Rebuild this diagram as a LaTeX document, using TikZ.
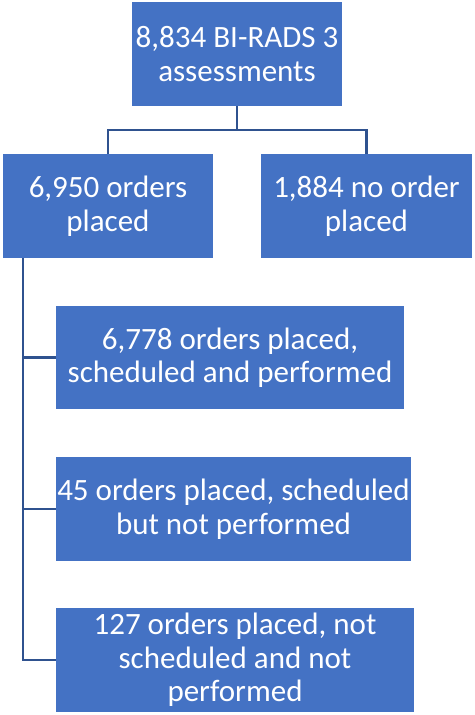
\documentclass[tikz,border=0pt]{standalone}
\usepackage{fontspec}
\setmainfont{Carlito}
\usepackage{tikz}
\usetikzlibrary{positioning, calc}
\definecolor{BRBlue}{RGB}{68, 114, 196}
\definecolor{BRLine}{RGB}{47, 82, 143}

\tikzset{
  box/.style={fill=BRBlue, text=white, align=center, inner sep=0pt,
    font=\fontsize{31}{33.5}\selectfont},
  link/.style={BRLine, line width=2.2pt}
}

\begin{document}
\begin{tikzpicture}[x=1pt,y=1pt]
  \path[use as bounding box] (0,0) rectangle (474,715);
  \fill[white] (0,0) rectangle (474,715);

  \node[box, minimum width=210, minimum height=104] (total) at (237,661)
    {8,834 BI-RADS 3\\assessments};
  \node[box, minimum width=210, minimum height=104] (placed) at (108,509)
    {6,950 orders\\placed};
  \node[box, minimum width=211, minimum height=104] (noorder) at (366.5,509)
    {1,884 no order\\placed};

  \node[box, minimum width=348, minimum height=103] (done) at (230,357.5)
    {6,778 orders placed,\\scheduled and performed};
  \node[box, minimum width=355, minimum height=104] (missed) at (233.5,206)
    {45 orders placed, scheduled\\but not performed};
  \node[box, minimum width=358, minimum height=104] (unsched) at (235,55)
    {127 orders placed, not\\scheduled and not\\performed};

  % tree links
  \coordinate (fork) at ($(total.south)+(0,-24)$);
  \draw[link] (total.south) -- (fork) -| (placed.north);
  \draw[link] (fork) -| (noorder.north);

  \coordinate (spine) at (23,0 |- placed.south);
  \draw[link] (spine) |- (done.west);
  \draw[link] (spine) |- (missed.west);
  \draw[link] (spine) |- (unsched.west);
\end{tikzpicture}
\end{document}
